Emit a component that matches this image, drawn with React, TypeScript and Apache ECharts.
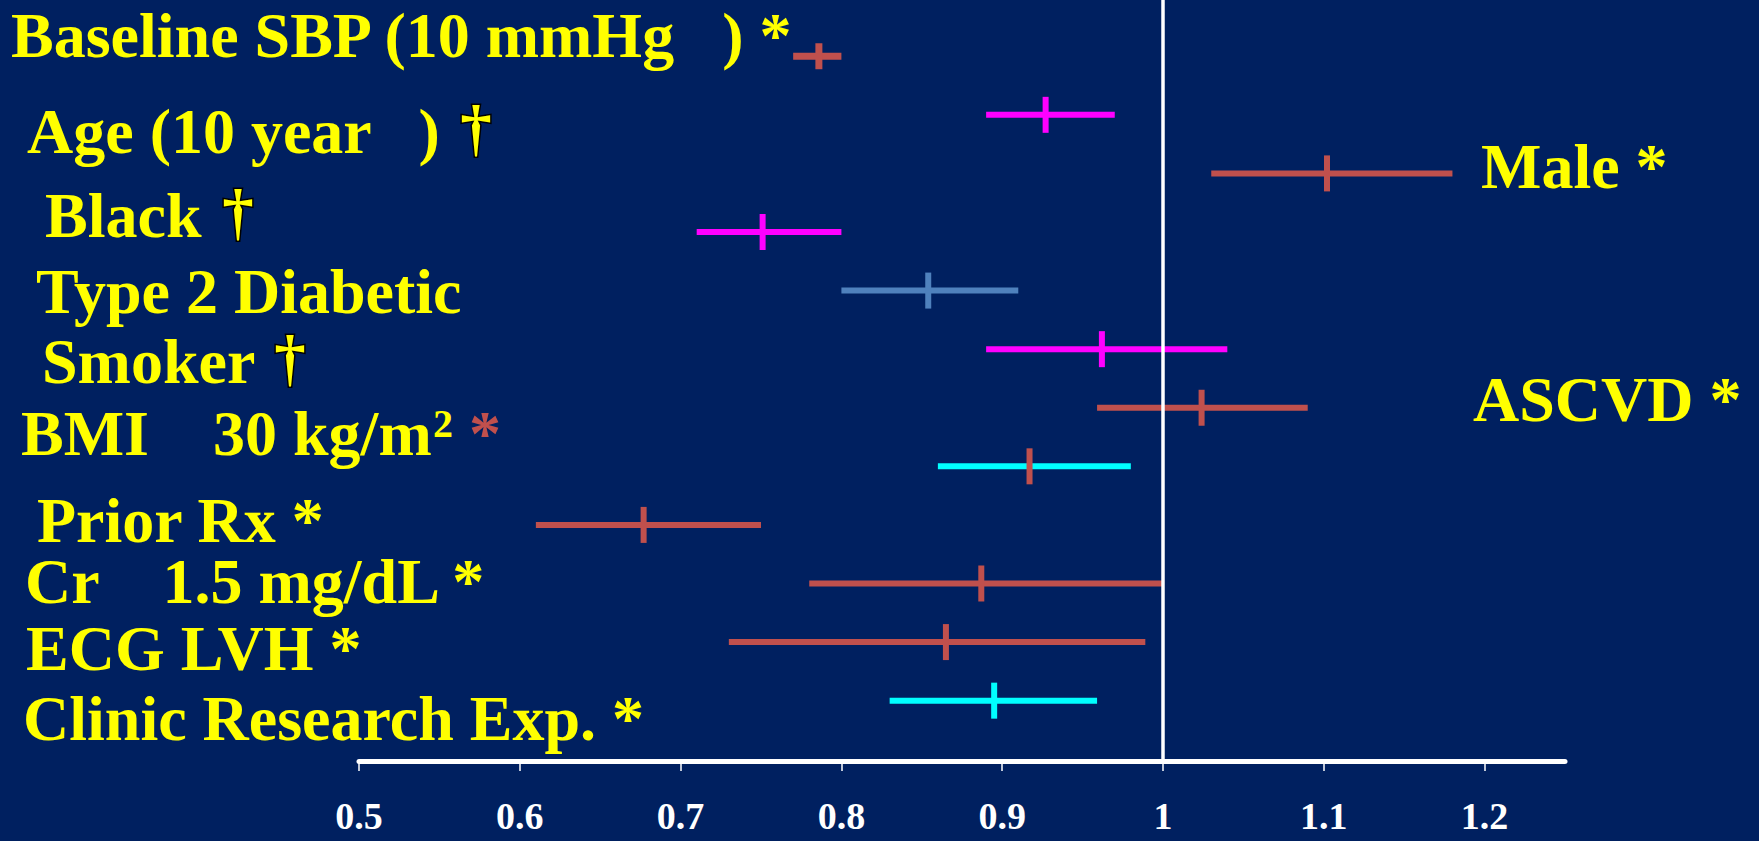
import React, { useEffect, useRef } from 'react';
import * as echarts from 'echarts';

// ---- data ----
const rowNames = [
  'Baseline SBP', 'Age', 'Male', 'Black', 'Type 2 Diabetic', 'Smoker',
  'ASCVD', 'BMI', 'Prior Rx', 'Cr', 'ECG LVH', 'Clinic Research Exp.',
];
const estimates = [0.786, 0.927, 1.102, 0.751, 0.854, 0.962, 1.024, 0.917, 0.677, 0.887, 0.865, 0.895];
const lowerCI = [0.770, 0.890, 1.030, 0.710, 0.800, 0.890, 0.959, 0.860, 0.610, 0.780, 0.730, 0.830];
const upperCI = [0.800, 0.970, 1.180, 0.800, 0.910, 1.040, 1.090, 0.980, 0.750, 1.000, 0.989, 0.959];
const tickValues = [0.5, 0.6, 0.7, 0.8, 0.9, 1, 1.1, 1.2];

// ---- styles ----
const RED = '#C0504D';
const MAG = '#FF00FF';
const BLUE = '#4F81BD';
const CYAN = '#00FFFF';
const YEL = '#FFFF00';
const BG = '#002060';
const FONT = '"Liberation Serif", "Times New Roman", serif';
const ciColors = [RED, MAG, RED, MAG, BLUE, MAG, RED, CYAN, RED, RED, RED, CYAN];
const markColors = [RED, MAG, RED, MAG, BLUE, MAG, RED, RED, RED, RED, RED, CYAN];
const lineWidths = [7, 6, 6, 6, 6, 6, 6, 6, 6, 6, 6, 6];
const markHeights = [26, 36, 36, 36, 36, 36, 36, 36, 36, 36, 36, 36];

const FS = 64;
const C = 0.3375; // central-baseline offset ratio

function label(text: string, x: number, baseline: number, fill = YEL, size = FS) {
  return {
    type: 'text',
    x,
    y: baseline - C * size,
    silent: true,
    style: {
      text,
      fill,
      font: `bold ${size}px ${FONT}`,
      lineHeight: Math.round(size * 0.8),
      align: 'left',
      verticalAlign: 'middle',
    },
  };
}

function dagger(cx: number, cy: number) {
  return {
    type: 'text',
    x: cx,
    y: cy,
    silent: true,
    style: {
      text: '\u2020',
      fill: YEL,
      stroke: '#000',
      lineWidth: 3,
      font: `bold 63px ${FONT}`,
      lineHeight: 48,
      align: 'center',
      verticalAlign: 'middle',
    },
  };
}

export default function App() {
  const ref = useRef<HTMLDivElement>(null);

  useEffect(() => {
    document.body.style.margin = '0';
    document.body.style.background = BG;
    const chart = echarts.init(ref.current!, null, { renderer: 'svg' });

    const data = estimates.map((e, i) => [e, lowerCI[i], upperCI[i], i + 1, rowNames[i]]);

    chart.setOption({
      animation: false,
      backgroundColor: BG,
      grid: { left: 359, right: 194, top: 0, bottom: 80, containLabel: false, outerBoundsMode: 'none' },
      xAxis: {
        type: 'value',
        min: 0.5,
        max: 1.25,
        interval: 0.1,
        splitLine: { show: false },
        axisLine: { show: true, onZero: false, lineStyle: { color: '#fff', width: 5 } },
        axisTick: { show: true, length: 10, lineStyle: { color: '#fff', width: 1.5 }, customValues: tickValues },
        axisLabel: {
          customValues: tickValues,
          color: '#fff',
          fontFamily: FONT,
          fontWeight: 'bold',
          fontSize: 38,
          margin: 36,
          formatter: (v: number) => String(+Number(v).toFixed(2)),
        },
      },
      yAxis: { type: 'value', min: 0.04, max: 13.03, inverse: true, show: false },
      series: [
        {
          type: 'custom',
          encode: { x: [0, 1, 2], y: 3 },
          data,
          renderItem: (params: any, api: any) => {
            const i = params.dataIndex;
            const row = api.value(3);
            const pLo = api.coord([api.value(1), row]);
            const pHi = api.coord([api.value(2), row]);
            const pE = api.coord([api.value(0), row]);
            const h = markHeights[i] / 2;
            return {
              type: 'group',
              children: [
                {
                  type: 'line',
                  shape: { x1: pLo[0], y1: pLo[1], x2: pHi[0], y2: pHi[1] },
                  style: { stroke: ciColors[i], lineWidth: lineWidths[i] },
                },
                {
                  type: 'line',
                  shape: { x1: pE[0], y1: pE[1] - h, x2: pE[0], y2: pE[1] + h },
                  style: { stroke: markColors[i], lineWidth: lineWidths[i] },
                },
              ],
            };
          },
          z: 2,
        },
        {
          type: 'line',
          data: [[1, 0.04], [1, 13.03]],
          showSymbol: false,
          silent: true,
          lineStyle: { color: '#fff', width: 3.5 },
          z: 3,
        },
      ],
      graphic: [
        label('Baseline SBP (10 mmHg   ) *', 11, 57),
        label('Age (10 year   )', 27, 153),
        dagger(476, 127.5),
        label('Black', 45, 237),
        dagger(238, 212),
        label('Type 2 Diabetic', 36, 313),
        label('Smoker', 42, 383),
        dagger(290, 357.5),
        label('BMI    30 kg/m', 21, 455),
        label('2', 433, 437, YEL, 40),
        label('*', 469, 455, RED),
        label('Prior Rx *', 37, 542),
        label('Cr    1.5 mg/dL *', 25, 603),
        label('ECG LVH *', 26, 670),
        label('Clinic Research Exp. *', 23, 740),
        label('Male *', 1481, 188),
        label('ASCVD *', 1473, 421),
      ],
    });

    return () => chart.dispose();
  }, []);

  return (
    <div
      ref={ref}
      style={{ position: 'fixed', left: 0, top: 0, width: 1759, height: 841, background: BG }}
    />
  );
}
